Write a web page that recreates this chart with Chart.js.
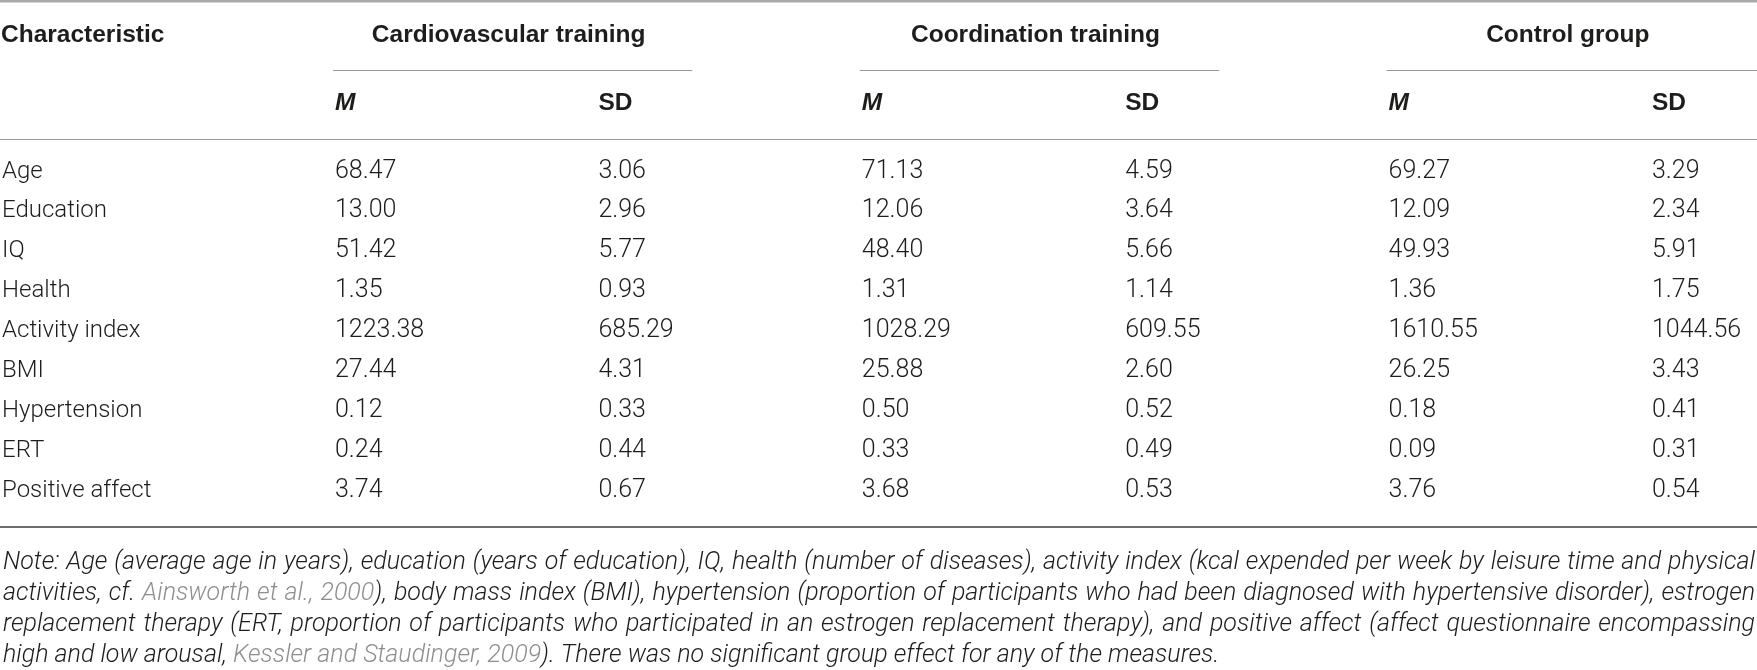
<!DOCTYPE html>
<html><head><meta charset="utf-8">
<script src="https://cdn.jsdelivr.net/npm/chart.js@4.4.0/dist/chart.umd.min.js"></script>
<style>html,body{margin:0;padding:0;background:#fff;overflow:hidden}canvas{display:block}</style>
</head><body>
<canvas id="c" width="1757" height="670"></canvas>
<script>
// ---- data ----
const characteristics = ["Age","Education","IQ","Health","Activity index","BMI","Hypertension","ERT","Positive affect"];
const groups = ["Cardiovascular training","Coordination training","Control group"];
const statLabels = ["M","SD"];
const firstHeader = "Characteristic";
const cardioM   = [68.47,13.00,51.42,1.35,1223.38,27.44,0.12,0.24,3.74];
const cardioSD  = [3.06,2.96,5.77,0.93,685.29,4.31,0.33,0.44,0.67];
const coordM    = [71.13,12.06,48.40,1.31,1028.29,25.88,0.50,0.33,3.68];
const coordSD   = [4.59,3.64,5.66,1.14,609.55,2.60,0.52,0.49,0.53];
const controlM  = [69.27,12.09,49.93,1.36,1610.55,26.25,0.18,0.09,3.76];
const controlSD = [3.29,2.34,5.91,1.75,1044.56,3.43,0.41,0.31,0.54];
const noteLines = [
  [["Note: Age (average age in years), education (years of education), IQ, health (number of diseases), activity index (kcal expended per week by leisure time and physical","t"]],
  [["activities, cf. ","t"],["Ainsworth et al., 2000","l"],["), body mass index (BMI), hypertension (proportion of participants who had been diagnosed with hypertensive disorder), estrogen","t"]],
  [["replacement therapy (ERT, proportion of participants who participated in an estrogen replacement therapy), and positive affect (affect questionnaire encompassing","t"]],
  [["high and low arousal, ","t"],["Kessler and Staudinger, 2009","l"],["). There was no significant group effect for any of the measures.","t"]]
];

// ---- layout / style ----
const TEXT = "#1d1d1b", LINK = "#8e8e8e";
const BOLD = "bold 24.5px 'Liberation Sans', Arial, sans-serif";
const BOLDIT = "italic bold 24.5px 'Liberation Sans', Arial, sans-serif";
const REG_LABEL = "300 24px Roboto, 'Liberation Sans', sans-serif";
const REG_NUM = "300 25px Roboto, 'Liberation Sans', sans-serif";
const ROW0 = 177.5, STEP = 39.95, H = 670;
const yv = px => (px - ROW0) / STEP;
const columns = [cardioM, cardioSD, coordM, coordSD, controlM, controlSD];

const datasets = columns.map((col, ci) => ({
  label: groups[Math.floor(ci/2)] + " " + statLabels[ci%2],
  data: col.map((v, ri) => ({x: ci + 1, y: ri, v: v})),
  pointRadius: 0, pointHoverRadius: 0, showLine: false
}));

function tokenize(segs){
  const words=[]; let cur=[];
  for (const [text,kind] of segs){
    let buf='';
    for (const ch of text){
      if (ch===' '){ if(buf){cur.push({t:buf,k:kind});buf='';} if(cur.length){words.push(cur);cur=[];} }
      else buf+=ch;
    }
    if(buf) cur.push({t:buf,k:kind});
  }
  if(cur.length) words.push(cur);
  return words;
}

const tablePlugin = {
  id: 'tablePlugin',
  afterDraw(chart){
    const ctx = chart.ctx, xs = chart.scales.x, ys = chart.scales.y, ca = chart.chartArea;
    const Y = v => ys.getPixelForValue(v);
    ctx.save();
    function hline(v, x0, x1, w, c){ ctx.strokeStyle=c; ctx.lineWidth=w; ctx.beginPath(); const y=Math.round(Y(v))+(Math.round(w)%2?0.5:0); ctx.moveTo(x0,y); ctx.lineTo(x1,y); ctx.stroke(); }
    // rules
    ctx.fillStyle="#a9a9a9"; ctx.fillRect(ca.left, Y(yv(0)), ca.right-ca.left, 2.5);
    hline(yv(138.5), ca.left, ca.right, 1.2, "#9a9a9a");
    hline(yv(527), ca.left, ca.right, 2, "#6f6f6f");
    // header rows
    ctx.fillStyle=TEXT; ctx.textBaseline="alphabetic";
    ctx.font=BOLD; ctx.textAlign="left";
    ctx.fillText(firstHeader, ca.left+1, Y(yv(41.5)));
    groups.forEach((g, gi) => {
      const mx = xs.getPixelForValue(gi*2+1), sx = xs.getPixelForValue(gi*2+2);
      const x0 = mx - 2, x1 = gi===groups.length-1 ? ca.right : sx + 94;
      hline(yv(70), x0, x1, 1.2, "#9a9a9a");
      ctx.fillStyle=TEXT; ctx.font=BOLD; ctx.textAlign="center";
      ctx.fillText(g, (x0+x1)/2 - 4, Y(yv(41.5)));
      ctx.textAlign="left";
      ctx.font=BOLDIT; ctx.fillText(statLabels[0], mx, Y(yv(109.5)));
      ctx.font=BOLD; ctx.fillText(statLabels[1], sx, Y(yv(109.5)));
    });
    // row labels
    ctx.font=REG_LABEL; ctx.fillStyle=TEXT; ctx.textAlign="left";
    characteristics.forEach((c, ri) => ctx.fillText(c, ca.left+2, Y(ri)));
    // cells
    ctx.font=REG_NUM;
    chart.data.datasets.forEach((ds, di) => {
      const meta = chart.getDatasetMeta(di);
      meta.data.forEach((el, i) => ctx.fillText(ds.data[i].v.toFixed(2), el.x, el.y));
    });
    // note
    const left = ca.left + 3, right = ca.right - 2;
    const fam = "Roboto, 'Liberation Sans', sans-serif";
    ctx.font = "italic 300 20px " + fam;
    const w1 = ctx.measureText(noteLines[0][0][0]).width;
    const size = Math.max(17, Math.min(25, 20 * 1742 / w1));
    ctx.font = "italic 300 " + size.toFixed(2) + "px " + fam;
    const spaceW = ctx.measureText(" ").width;
    noteLines.forEach((segs, li) => {
      const words = tokenize(segs);
      const ww = words.map(w => w.reduce((s,p)=>s+ctx.measureText(p.t).width,0));
      const total = ww.reduce((a,b)=>a+b,0);
      const justify = li < noteLines.length-1;
      const gap = justify ? (right-left-total)/(words.length-1) : spaceW;
      let x = left; const y = Y(yv(568.5 + li*31));
      words.forEach(w => {
        w.forEach(p => { ctx.fillStyle = p.k==='l' ? LINK : TEXT; ctx.fillText(p.t, x, y); x += ctx.measureText(p.t).width; });
        x += gap;
      });
    });
    ctx.restore();
  }
};

new Chart(document.getElementById('c'), {
  type: 'scatter',
  data: { datasets },
  options: {
    responsive: false, animation: false, devicePixelRatio: 1,
    layout: { padding: 0 },
    plugins: { legend: {display:false}, tooltip: {enabled:false} },
    events: [],
    scales: {
      x: { type:'linear', display:false, min: 1 - 335/263.4, max: 1 - 335/263.4 + 1757/263.4 },
      y: { type:'linear', display:false, reverse:true, min: yv(0), max: yv(H) }
    }
  },
  plugins: [tablePlugin]
});
</script>
</body></html>
